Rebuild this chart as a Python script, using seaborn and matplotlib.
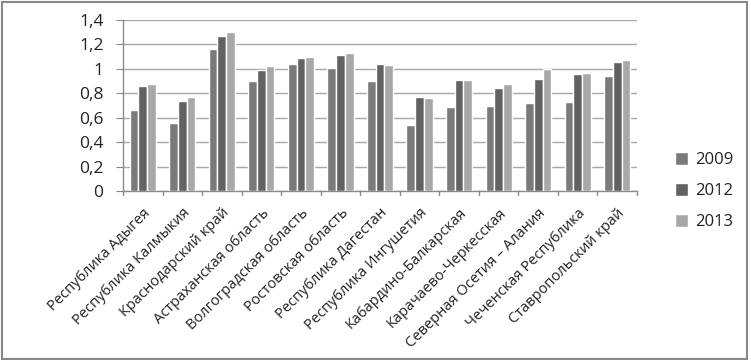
import pandas as pd
import numpy as np
import matplotlib
matplotlib.use("Agg")
import matplotlib.pyplot as plt
import seaborn as sns
from matplotlib.ticker import FuncFormatter, MultipleLocator
from matplotlib.patches import Rectangle

regions = [
    "Республика Адыгея",
    "Республика Калмыкия",
    "Краснодарский край",
    "Астраханская область",
    "Волгоградская область",
    "Ростовская область",
    "Республика Дагестан",
    "Республика Ингушетия",
    "Кабардино-Балкарская",
    "Карачаево-Черкесская",
    "Северная Осетия – Алания",
    "Чеченская Республика",
    "Ставропольский край",
]
years = ["2009", "2012", "2013"]
v2009 = [0.66, 0.56, 1.16, 0.90, 1.04, 1.01, 0.90, 0.54, 0.69, 0.70, 0.72, 0.73, 0.94]
v2012 = [0.86, 0.74, 1.27, 0.99, 1.09, 1.11, 1.04, 0.77, 0.91, 0.84, 0.92, 0.96, 1.06]
v2013 = [0.88, 0.77, 1.30, 1.02, 1.10, 1.13, 1.03, 0.76, 0.91, 0.88, 1.00, 0.97, 1.07]
colors = ["#7a7a7a", "#626262", "#a8a8a8"]

df = pd.DataFrame({
    "region": regions * 3,
    "year": [y for y in years for _ in regions],
    "value": v2009 + v2012 + v2013,
})

sns.set_style("white")
plt.rcParams["font.family"] = ["Open Sans", "DejaVu Sans"]

fig = plt.figure(figsize=(7.51, 3.60), dpi=100)
ax = fig.add_axes([123 / 751, 1 - 191 / 360, (637 - 123) / 751, (191 - 20) / 360])

sns.barplot(data=df, x="region", y="value", hue="year", palette=colors,
            width=0.66, saturation=1, ax=ax, zorder=3)

ax.set_ylim(0, 1.4)
ax.set_xlim(-0.5, len(regions) - 0.5)
ax.yaxis.set_major_locator(MultipleLocator(0.2))
ax.yaxis.set_major_formatter(FuncFormatter(lambda v, p: f"{v:g}".replace(".", ",")))
ax.grid(axis="y", color="#a8a8a8", linewidth=1, zorder=0)
ax.set_xlabel("")
ax.set_ylabel("")

for s in ["top", "right"]:
    ax.spines[s].set_visible(False)
for s in ["left", "bottom"]:
    ax.spines[s].set_color("#8a8a8a")
    ax.spines[s].set_linewidth(1)

ax.tick_params(axis="y", labelsize=12.5, colors="#8a8a8a", labelcolor="#222222",
               left=True, length=5, direction="out", pad=9)
ax.set_xticks(np.arange(len(regions)))
ax.set_xticklabels(regions, rotation=45, ha="right", rotation_mode="anchor",
                   fontsize=10.5, color="#222222")
ax.tick_params(axis="x", bottom=False, pad=7)
# category separator ticks
for xb in np.arange(-0.5, len(regions) + 0.5, 1):
    ax.plot([xb, xb], [0, -0.03], color="#8a8a8a", lw=1, clip_on=False,
            transform=ax.transData)

leg = ax.legend(loc="upper left", bbox_to_anchor=(660 / 751, 1 - 137 / 360),
                bbox_transform=fig.transFigure, frameon=False, fontsize=12,
                handlelength=0.8, handleheight=0.8, handletextpad=0.4,
                labelspacing=0.9)
for t in leg.get_texts():
    t.set_color("#222222")

fig.patches.append(Rectangle((0.003, 0.004), 0.992, 0.99, transform=fig.transFigure,
                             fill=False, edgecolor="#888888", linewidth=1.5))

fig.savefig("out.png", dpi=100)
